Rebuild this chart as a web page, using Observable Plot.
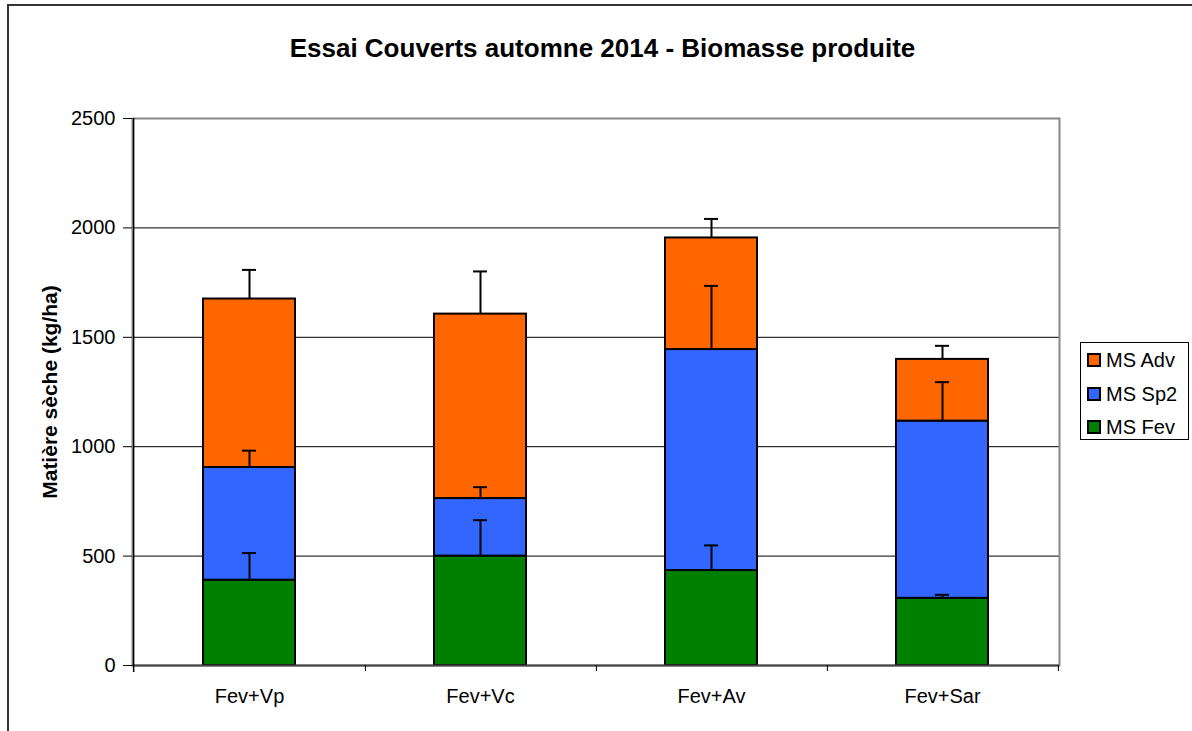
<!DOCTYPE html>
<html>
<head>
<meta charset="utf-8">
<script src="https://cdn.jsdelivr.net/npm/d3@7"></script>
<script src="https://cdn.jsdelivr.net/npm/@observablehq/plot@0.6"></script>
<style>
  html, body { margin: 0; padding: 0; background: #fff; overflow: hidden; }
  #wrap { position: relative; width: 1192px; height: 731px; overflow: hidden; font-family: 'Liberation Sans', Arial, sans-serif; }
  #outer { position: absolute; left: 7px; top: 4px; width: 1400px; height: 900px; border: 2px solid #333; box-sizing: border-box; }
  #chart { position: absolute; left: 0; top: 0; }
  #title { position: absolute; left: 0; width: 1205px; top: 33px; text-align: center; font-weight: bold; font-size: 26px; line-height: 30px; color: #000; }
  #legend { position: absolute; left: 1080px; top: 342px; width: 109px; height: 98px; border: 1px solid #000; box-sizing: border-box; background: #fff; }
  .li { position: absolute; left: 6px; height: 22px; }
  .sw { position: absolute; left: 0; top: 4px; width: 10px; height: 10px; border: 2px solid #000; }
  .lt { position: absolute; left: 19px; top: 0; font-size: 20px; line-height: 22px; white-space: nowrap; color: #000; }
</style>
</head>
<body>
<div id="wrap">
  <div id="outer"></div>
  <div id="chart"></div>
  <div id="title"></div>
  <div id="legend"></div>
</div>
<script>
const titleText = "Essai Couverts automne 2014 - Biomasse produite";
const yLabel = "Matière sèche (kg/ha)";
const categories = ["Fev+Vp", "Fev+Vc", "Fev+Av", "Fev+Sar"];
const seriesNames = ["MS Fev", "MS Sp2", "MS Adv"];
const seriesColors = ["#008000", "#3366ff", "#ff6600"];
const msFev = [390, 500, 434, 307];
const msSp2 = [515, 263, 1010, 810];
const msAdv = [770, 843, 510, 282];
const errFev = [124, 164, 115, 16];
const errSp2 = [77, 52, 291, 178];
const errAdv = [133, 195, 87, 62];
const yTicks = [0, 500, 1000, 1500, 2000, 2500];

const seriesValues = [msFev, msSp2, msAdv];
const seriesErrors = [errFev, errSp2, errAdv];

// long table for stacked bars
const rows = [];
seriesNames.forEach((s, si) => {
  categories.forEach((c, ci) => rows.push({cat: c, series: s, value: seriesValues[si][ci]}));
});
// error bars: from the top of each stacked segment upward
const errRows = [];
categories.forEach((c, ci) => {
  let cum = 0;
  seriesNames.forEach((s, si) => {
    cum += seriesValues[si][ci];
    errRows.push({cat: c, series: s, top: cum, cap: cum + seriesErrors[si][ci]});
  });
});

const W = 1192, H = 731, mL = 132, mR = 133, mT = 118, mB = 66;
const pIn = 0.6, pOut = 0.3;
const step = (W - mL - mR) / (categories.length - pIn + 2 * pOut);

const chart = Plot.plot({
  width: W, height: H,
  marginLeft: mL, marginRight: mR, marginTop: mT, marginBottom: mB,
  style: {fontFamily: "'Liberation Sans', Arial, sans-serif", fontSize: "20px", color: "#000", background: "transparent", overflow: "visible"},
  x: {domain: categories, paddingInner: pIn, paddingOuter: pOut},
  y: {domain: [0, 2500]},
  color: {domain: seriesNames, range: seriesColors},
  marks: [
    Plot.ruleY(yTicks.filter(v => v > 0 && v < 2500), {stroke: "#000", strokeWidth: 1}),
    Plot.frame({stroke: "#888", strokeWidth: 2}),
    Plot.barY(rows, {x: "cat", y: "value", fill: "series", order: seriesNames, stroke: "#000", strokeWidth: 2}),
    Plot.ruleX(errRows, {x: "cat", y1: "top", y2: "cap", stroke: "#000", strokeWidth: 2}),
    Plot.tickY(errRows, {x: "cat", y: "cap", insetLeft: 39, insetRight: 39, stroke: "#000", strokeWidth: 2}),
    Plot.ruleY([0], {stroke: "#444", strokeWidth: 2}),
    Plot.ruleX([categories[0]], {x: d => d, dx: -step / 2, y1: 2500, y2: 0, insetBottom: -7, stroke: "#000", strokeWidth: 1.5}),
    Plot.ruleX(categories, {x: d => d, dx: step / 2, y1: 0, y2: 0, insetBottom: -6, stroke: "#000", strokeWidth: 1}),
    Plot.axisY({ticks: yTicks, tickSize: 9, tickPadding: 8, fontSize: 20, label: null, tickFormat: d => String(d)}),
    Plot.axisX({tickSize: 0, tickPadding: 23, fontSize: 20, label: null}),
    Plot.text([yLabel], {text: d => d, frameAnchor: "left", dx: -82, rotate: -90, textAnchor: "middle", fontWeight: "bold", fontSize: 21})
  ]
});
document.getElementById("chart").appendChild(chart);
document.getElementById("title").textContent = titleText;

const legend = document.getElementById("legend");
const rowTops = [6, 40, 73];
seriesNames.slice().reverse().forEach((s, i) => {
  const idx = seriesNames.indexOf(s);
  const item = document.createElement("div");
  item.className = "li";
  item.style.top = rowTops[i] + "px";
  const sw = document.createElement("div");
  sw.className = "sw";
  sw.style.background = seriesColors[idx];
  const lt = document.createElement("div");
  lt.className = "lt";
  lt.textContent = s;
  item.appendChild(sw);
  item.appendChild(lt);
  legend.appendChild(item);
});
</script>
</body>
</html>
